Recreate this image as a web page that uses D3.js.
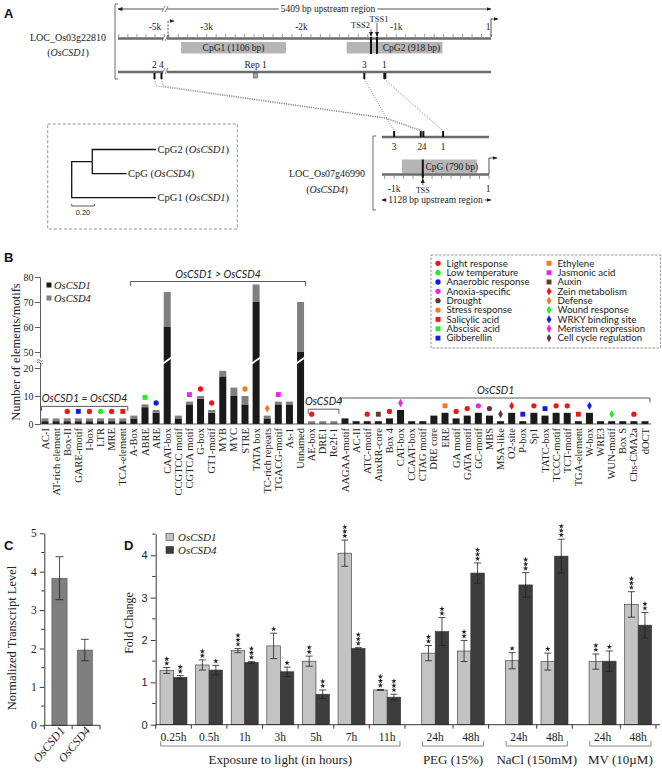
<!DOCTYPE html>
<html>
<head>
<meta charset="utf-8">
<script src="https://cdn.jsdelivr.net/npm/d3@7"></script>
<style>
  body { margin: 0; background: #fff; }
  svg { display: block; }
</style>
</head>
<body>
<div id="fig"></div>
<script>
// ---------- panel A data ----------
var csd1ScaleTicks = [-5000, -3000, -2000, -1000, 0];
var csd1ScaleLabels = ["-5k", "-3k", "-2k", "-1k", "1"];
var csd1CpgNames = ["CpG1 (1106 bp)", "CpG2 (918 bp)"];
var csd1CpgStart = [-3270, -1523];
var csd1CpgEnd = [-2164, -513];
var csd1TssNames = ["TSS2", "TSS1"];
var csd1TssPos = [-1266, -1203];
var csd1AltTss = -3408;
var csd1SiteNames = ["2", "4", "Rep 1", "3", "1"];
var csd1SitePos = [-5006, -4929, -2484, -1337, -1126];

var csd4ScaleTicks = [-1000, -698, 0];
var csd4ScaleLabels = ["-1k", "TSS", "1"];
var csd4CpgName = "CpG (790 bp)";
var csd4CpgStart = -918;
var csd4CpgEnd = -128;
var csd4Tss = -698;
var csd4SiteNames = ["3", "2", "4", "1"];
var csd4SitePos = [-1000, -719, -692, -484];

var cpgTree = {name: "root", len: 0, children: [
  {name: "n1", len: 0.182, children: [
    {name: "CpG2", gene: "OsCSD1", len: 0.564},
    {name: "CpG", gene: "OsCSD4", len: 0.303}
  ]},
  {name: "CpG1", gene: "OsCSD1", len: 0.746}
]};

// ---------- panel B data ----------
var motifNames = ["AC-I", "AT-rich element", "Box-II", "GARE-motif", "I-box", "LTR", "MRE", "TCA-element",
  "A-Box", "ABRE", "ARE", "CAAT-box", "CCGTCC motif", "CGTCA motif", "G-box", "GT1-motif", "MYB", "MYC",
  "STRE", "TATA box", "TC-rich repeats", "TGACG-motif", "As-1", "Unnamed",
  "AE-box", "DRE1", "Re2f-1",
  "AAGAA-motif", "AC-II", "ATC-motif", "AuxRR-core", "Box 4", "CAT-box", "CCAAT-box", "CTAG motif", "DRE core",
  "ERE", "GA motif", "GATA motif", "GC-motif", "MBS", "MSA-like", "O2-site", "P-box", "Sp1", "TATC-box",
  "TCCC-motif", "TCT-motif", "TGA-element", "W-box", "WRE3", "WUN-motif", "Box S", "Chs-CMA2a", "dOCT"];
var csd1Counts = [1, 1, 1, 1, 1, 1, 1, 1,
  2, 6, 4, 60, 2, 7, 9, 4, 17, 10, 7, 70, 2, 7, 7, 50,
  0, 0, 0,
  2, 1, 1, 1, 2, 5, 1, 1, 3, 4, 2, 3, 4, 3, 1, 4, 1, 4, 3, 4, 4, 1, 4, 1, 1, 1, 1, 1];
var csd4Counts = [1, 1, 1, 1, 1, 1, 1, 1,
  1, 1, 1, 14, 1, 1, 1, 1, 2, 3, 3, 7, 1, 1, 1, 20,
  1, 1, 1,
  0, 0, 0, 0, 0, 0, 0, 0, 0, 0, 0, 0, 0, 0, 0, 0, 0, 0, 0, 0, 0, 0, 0, 0, 0, 0, 0, 0];
var motifFunction = ["", "", "Light response", "Gibberellin", "Light response", "Low temperature", "Light response", "Salicylic acid",
  "", "Abscisic acid", "Anaerobic response", "", "", "Jasmonic acid", "Light response", "Light response", "", "",
  "Stress response", "", "Defense", "Jasmonic acid", "", "",
  "Light response", "", "",
  "", "", "Light response", "Auxin", "Light response", "Meristem expression", "", "", "",
  "Ethylene", "Light response", "Light response", "Anoxia-specific", "Drought", "Cell cycle regulation", "Zein metabolism", "Gibberellin", "Light response", "Gibberellin",
  "Light response", "Light response", "Salicylic acid", "WRKY binding site", "", "Wound response", "", "Light response", ""];
var motifGroupNames = ["OsCSD1 = OsCSD4", "OsCSD1 > OsCSD4", "OsCSD4", "OsCSD1"];
var motifGroupFirst = [0, 8, 24, 27];
var motifGroupLast = [7, 23, 26, 54];

var legendNames = ["Light response", "Low temperature", "Anaerobic response", "Anoxia-specific", "Drought", "Stress response",
  "Salicylic acid", "Abscisic acid", "Gibberellin", "Ethylene", "Jasmonic acid", "Auxin",
  "Zein metabolism", "Defense", "Wound response", "WRKY binding site", "Meristem expression", "Cell cycle regulation"];
var legendShapes = ["circle", "circle", "circle", "circle", "circle", "circle",
  "square", "square", "square", "square", "square", "square",
  "diamond", "diamond", "diamond", "diamond", "diamond", "diamond"];
var legendColors = ["#f41414", "#22ee22", "#1a1ae6", "#ee22ee", "#5e3b33", "#f47a20",
  "#f41414", "#22ee22", "#1a1ae6", "#f47a20", "#ee22ee", "#5e3b33",
  "#f41414", "#f47a20", "#22ee22", "#1a1ae6", "#ee22ee", "#5e3b33"];

// ---------- panel C data ----------
var cGenes = ["OsCSD1", "OsCSD4"];
var cMean = [3.83, 1.96];
var cErr = [0.56, 0.28];

// ---------- panel D data ----------
var dGroups = ["Exposure to light (in hours)", "PEG (15%)", "NaCl (150mM)", "MV (10\u00b5M)"];
var dConditions = ["0.25h", "0.5h", "1h", "3h", "5h", "7h", "11h", "24h", "48h", "24h", "48h", "24h", "48h"];
var dConditionGroup = [0, 0, 0, 0, 0, 0, 0, 1, 1, 2, 2, 3, 3];
var dCsd1Mean = [1.28, 1.41, 1.75, 1.86, 1.50, 4.05, 0.82, 1.69, 1.74, 1.51, 1.49, 1.49, 2.84];
var dCsd1Err = [0.07, 0.12, 0.05, 0.30, 0.12, 0.31, 0.01, 0.18, 0.25, 0.19, 0.20, 0.18, 0.30];
var dCsd1Sig = [2, 2, 3, 1, 2, 3, 3, 2, 2, 1, 1, 2, 3];
var dCsd4Mean = [1.12, 1.29, 1.47, 1.25, 0.72, 1.80, 0.65, 2.20, 3.58, 3.30, 3.98, 1.50, 2.35];
var dCsd4Err = [0.04, 0.11, 0.02, 0.11, 0.10, 0.02, 0.07, 0.33, 0.24, 0.29, 0.40, 0.24, 0.30];
var dCsd4Sig = [2, 1, 3, 1, 2, 3, 3, 2, 3, 3, 3, 1, 2];

// ---------- drawing ----------
var SERIF = '"Liberation Serif", "Times New Roman", serif';
var SANS = 'Lato, "Noto Sans", sans-serif';
var ARIAL = '"Liberation Sans", Arial, sans-serif';
var ink = "#222";

var svg = d3.select("#fig").append("svg")
  .attr("width", 662)
  .attr("height", 770);
svg.append("rect").attr("width", 662).attr("height", 770).attr("fill", "#fff");

var defs = svg.append("defs");
defs.append("marker")
  .attr("id", "arr")
  .attr("viewBox", "0 0 10 10")
  .attr("refX", 9).attr("refY", 5)
  .attr("markerUnits", "userSpaceOnUse")
  .attr("markerWidth", 5).attr("markerHeight", 5)
  .attr("orient", "auto-start-reverse")
  .append("path").attr("d", "M0,1L10,5L0,9z").attr("fill", ink);

function panelLetter(x, y, t) {
  svg.append("text").attr("x", x).attr("y", y)
    .attr("font-family", ARIAL).attr("font-weight", "bold").attr("font-size", 13)
    .attr("fill", "#111").text(t);
}

function geneText(g, x, y, pre, gene, post, size, anchor) {
  var t = g.append("text").attr("x", x).attr("y", y)
    .attr("font-family", SERIF).attr("font-size", size)
    .attr("text-anchor", anchor || "start").attr("fill", ink);
  if (pre) t.append("tspan").text(pre);
  t.append("tspan").attr("font-style", "italic").text(gene);
  if (post) t.append("tspan").text(post);
  return t;
}

function sideBracket(g, x, y0, y1) {
  g.append("path").attr("d", `M${x + 3},${y0}H${x}V${y1}H${x + 3}`)
    .attr("fill", "none").attr("stroke", "#444").attr("stroke-width", 0.8);
}

function lengthArrow(g, xa, xb, y, label, xt) {
  g.append("line").attr("x1", xa).attr("x2", xb).attr("y1", y).attr("y2", y)
    .attr("stroke", ink).attr("stroke-width", 0.8)
    .attr("marker-start", "url(#arr)").attr("marker-end", "url(#arr)");
  var t = g.append("text").attr("x", xt).attr("y", y + 3)
    .attr("text-anchor", "middle").attr("font-family", SERIF).attr("font-size", 9.5)
    .attr("fill", ink).text(label);
  var w = t.node().getComputedTextLength();
  g.insert("rect", function() { return t.node(); })
    .attr("x", xt - w / 2 - 2).attr("y", y - 2).attr("width", w + 4).attr("height", 4).attr("fill", "#fff");
}

function breakMark(g, x, y) {
  g.append("rect").attr("x", x - 2).attr("y", y - 3).attr("width", 4).attr("height", 6).attr("fill", "#fff");
  [-1.5, 1.5].forEach(function(o) {
    g.append("line").attr("x1", x + o - 1.5).attr("y1", y + 3).attr("x2", x + o + 1.5).attr("y2", y - 3)
      .attr("stroke", "#333").attr("stroke-width", 0.6);
  });
}

function bentArrow(g, x, yBase, yTop, len, dashed) {
  g.append("path").attr("d", `M${x},${yBase}V${yTop}H${x + len}`)
    .attr("fill", "none").attr("stroke", ink).attr("stroke-width", 0.8)
    .attr("stroke-dasharray", dashed ? "2,1.5" : null)
    .attr("marker-end", "url(#arr)");
}

// ===== Panel A =====
panelLetter(4, 18, "A");
var gA = svg.append("g");
var grayLine = "#6b6b6b";
var cpgFill = "#b5b5b5";

var xG1 = d3.scaleLinear().domain([-5409, -4890, -3440, 0]).range([118, 165, 165, 491]);

sideBracket(gA, 115, 4, 79);
lengthArrow(gA, xG1(-5409), xG1(0), 9, "5409 bp upstream region", xG1(-1720));
breakMark(gA, 165, 9);

geneText(gA, 68, 41, "", "LOC_Os03g22810", "", 10, "middle").select("tspan").attr("font-style", null);
geneText(gA, 68, 56, "(", "OsCSD1", ")", 10, "middle");

// scale line
gA.append("line").attr("x1", xG1(-5409)).attr("x2", xG1(0)).attr("y1", 38.5).attr("y2", 38.5)
  .attr("stroke", grayLine).attr("stroke-width", 2.5);
var minor1 = d3.range(-5400, -4850, 100).concat(d3.range(-3400, 1, 100));
gA.selectAll(".t1").data(minor1).enter().append("line")
  .attr("x1", d => xG1(d)).attr("x2", d => xG1(d)).attr("y1", 37).attr("y2", 34)
  .attr("stroke", "#555").attr("stroke-width", 0.6);
gA.selectAll(".l1").data(csd1ScaleTicks).enter().append("text")
  .attr("x", (d, i) => xG1(d) - (i === 4 ? 3 : 0)).attr("y", 30)
  .attr("text-anchor", "middle").attr("font-family", SERIF).attr("font-size", 9.5).attr("fill", ink)
  .text((d, i) => csd1ScaleLabels[i]);
breakMark(gA, 165, 38);

bentArrow(gA, xG1(csd1AltTss), 37, 21, 6, true);
bentArrow(gA, xG1(0), 37, 19, 7, false);

// CpG islands
csd1CpgNames.forEach(function(n, i) {
  gA.append("rect").attr("x", xG1(csd1CpgStart[i])).attr("y", 42)
    .attr("width", xG1(csd1CpgEnd[i]) - xG1(csd1CpgStart[i])).attr("height", 11.5).attr("fill", cpgFill);
});
// TSS
csd1TssNames.forEach(function(n, i) {
  var x = xG1(csd1TssPos[i]);
  gA.append("line").attr("x1", x).attr("x2", x).attr("y1", 37).attr("y2", 54)
    .attr("stroke", "#111").attr("stroke-width", 2);
  var ty = i === 0 ? 28 : 22;
  gA.append("text").attr("x", i === 0 ? x - 1 : x + 2).attr("y", ty)
    .attr("text-anchor", i === 0 ? "end" : "middle")
    .attr("font-family", SERIF).attr("font-size", 8.5).attr("fill", ink).text(n);
  gA.append("line").attr("x1", x).attr("x2", x).attr("y1", ty + 1).attr("y2", 36.5)
    .attr("stroke", ink).attr("stroke-width", 0.7).attr("marker-end", "url(#arr)");
});
csd1CpgNames.forEach(function(n, i) {
  var cx = (xG1(csd1CpgStart[i]) + xG1(csd1CpgEnd[i])) / 2 + (i === 1 ? 17 : 0);
  gA.append("text").attr("x", cx).attr("y", 51)
    .attr("text-anchor", "middle").attr("font-family", SERIF).attr("font-size", 9.5).attr("fill", ink).text(n);
});

// site line
gA.append("line").attr("x1", xG1(-5409)).attr("x2", xG1(0)).attr("y1", 72).attr("y2", 72)
  .attr("stroke", grayLine).attr("stroke-width", 2.5);
breakMark(gA, 165, 71);
csd1SiteNames.forEach(function(n, i) {
  var x = xG1(csd1SitePos[i]);
  if (n === "Rep 1") {
    gA.append("rect").attr("x", x - 2).attr("y", 73).attr("width", 4).attr("height", 5)
      .attr("fill", "#aaa").attr("stroke", "#333").attr("stroke-width", 0.5);
  } else {
    gA.append("rect").attr("x", x - 1).attr("y", 73).attr("width", n === "1" ? 3 : 2).attr("height", 6).attr("fill", "#111");
  }
  gA.append("text").attr("x", x).attr("y", 68).attr("text-anchor", "middle")
    .attr("font-family", SERIF).attr("font-size", 9.5).attr("fill", ink).text(n);
});

// OsCSD4 promoter
var xG4 = d3.scaleLinear().domain([-1128, 0]).range([382, 489]);
sideBracket(gA, 373, 136, 210);
gA.append("line").attr("x1", xG4(-1128)).attr("x2", xG4(0)).attr("y1", 137).attr("y2", 137)
  .attr("stroke", grayLine).attr("stroke-width", 2.5);
csd4SiteNames.forEach(function(n, i) {
  var x = xG4(csd4SitePos[i]);
  gA.append("rect").attr("x", x - 1).attr("y", 131).attr("width", 2).attr("height", 6).attr("fill", "#111");
  var anchor = n === "2" ? "end" : (n === "4" ? "start" : "middle");
  var tx = n === "2" ? x + 1.5 : (n === "4" ? x - 1.5 : x);
  gA.append("text").attr("x", tx).attr("y", 150).attr("text-anchor", anchor)
    .attr("font-family", SERIF).attr("font-size", 9.5).attr("fill", ink).text(n);
});

// dotted links between the two promoters
csd1SiteNames.forEach(function(n, i) {
  var j = csd4SiteNames.indexOf(n);
  if (j < 0) return;
  var x0 = xG1(csd1SitePos[i]), x1 = xG4(csd4SitePos[j]);
  var pts = (n === "2" || n === "4")
    ? [[x0, 79], [x0 + 2, 86], [x1 - 37, 118], [x1, 131]]
    : [[x0, 79], [x1, 131]];
  gA.append("path").attr("d", d3.line()(pts))
    .attr("fill", "none").attr("stroke", "#555").attr("stroke-width", 0.7).attr("stroke-dasharray", "1,1.3");
});

gA.append("rect").attr("x", xG4(csd4CpgStart)).attr("y", 159.5)
  .attr("width", xG4(csd4CpgEnd) - xG4(csd4CpgStart)).attr("height", 14).attr("fill", cpgFill);
gA.append("text").attr("x", (xG4(csd4Tss) + xG4(csd4CpgEnd)) / 2 + 2).attr("y", 169.5)
  .attr("text-anchor", "middle").attr("font-family", SERIF).attr("font-size", 9.5).attr("fill", ink).text(csd4CpgName);
gA.append("line").attr("x1", xG4(-1128)).attr("x2", xG4(0)).attr("y1", 174.5).attr("y2", 174.5)
  .attr("stroke", grayLine).attr("stroke-width", 2.5);
gA.selectAll(".t4").data(d3.range(-1100, 1, 100)).enter().append("line")
  .attr("x1", d => xG4(d)).attr("x2", d => xG4(d)).attr("y1", 176).attr("y2", 179)
  .attr("stroke", "#555").attr("stroke-width", 0.6);
gA.append("line").attr("x1", xG4(csd4Tss)).attr("x2", xG4(csd4Tss)).attr("y1", 159.5).attr("y2", 178)
  .attr("stroke", "#111").attr("stroke-width", 2);
gA.append("line").attr("x1", xG4(csd4Tss)).attr("x2", xG4(csd4Tss)).attr("y1", 185).attr("y2", 178.5)
  .attr("stroke", ink).attr("stroke-width", 0.7).attr("marker-end", "url(#arr)");
gA.selectAll(".l4").data(csd4ScaleTicks).enter().append("text")
  .attr("x", (d, i) => xG4(d) - (i === 2 ? 1 : 0)).attr("y", (d, i) => i === 1 ? 193 : 192)
  .attr("text-anchor", "middle").attr("font-family", SERIF)
  .attr("font-size", (d, i) => i === 1 ? 8 : 9.5).attr("fill", ink)
  .text((d, i) => csd4ScaleLabels[i]);
bentArrow(gA, xG4(0), 174, 158, 8, false);
lengthArrow(gA, xG4(-1128), xG4(0) + 2, 200, "1128 bp upstream region", 435.5);

geneText(gA, 327, 177, "", "LOC_Os07g46990", "", 10, "middle").select("tspan").attr("font-style", null);
geneText(gA, 327, 193, "(", "OsCSD4", ")", 10, "middle");

// CpG tree
gA.append("rect").attr("x", 47.7).attr("y", 124).attr("width", 189.6).attr("height", 105)
  .attr("fill", "none").attr("stroke", "#777").attr("stroke-width", 0.8).attr("stroke-dasharray", "3,2");
var root = d3.hierarchy(cpgTree);
var xT = d3.scaleLinear().domain([0, 0.75]).range([71.7, 156.5]);
var leaves = root.leaves();
var yT = d3.scalePoint().domain(leaves.map(d => d.data.name)).range([149.5, 197.7]);
root.eachBefore(function(d) { d.dist = (d.parent ? d.parent.dist : 0) + d.data.len; });
root.eachAfter(function(d) {
  d.py = d.children ? d3.mean(d.children, c => c.py) : yT(d.data.name);
});
root.descendants().forEach(function(d) {
  if (!d.parent) return;
  gA.append("path")
    .attr("d", `M${xT(d.parent.dist)},${d.parent.py}V${d.py}H${xT(d.dist)}`)
    .attr("fill", "none").attr("stroke", "#111").attr("stroke-width", 1.3);
});
leaves.forEach(function(d) {
  geneText(gA, xT(d.dist) + 1.5, d.py + 3.5, d.data.name + " (", d.data.gene, ")", 10.5, "start");
});
gA.append("path").attr("d", `M${xT(0)},204V206H${xT(0.2)}V204`)
  .attr("fill", "none").attr("stroke", "#333").attr("stroke-width", 0.8);
gA.append("text").attr("x", (xT(0) + xT(0.2)) / 2).attr("y", 215).attr("text-anchor", "middle")
  .attr("font-family", ARIAL).attr("font-size", 7.5).attr("fill", ink).text("0.20");

// ===== Panel B =====
panelLetter(4, 262, "B");
var gB = svg.append("g");
var xB = d3.scalePoint().domain(motifNames).range([45, 645]);
var yB = d3.scaleLinear().domain([0, 20, 50, 80]).range([424, 368, 352, 277]);
var bwB = 7;
var totals = motifNames.map((m, i) => csd1Counts[i] + csd4Counts[i]);

gB.selectAll(".b1").data(motifNames).enter().append("rect")
  .attr("x", d => xB(d) - bwB / 2).attr("width", bwB)
  .attr("y", (d, i) => yB(csd1Counts[i]))
  .attr("height", (d, i) => yB(0) - yB(csd1Counts[i]))
  .attr("fill", "#1a1a1a");
gB.selectAll(".b4").data(motifNames).enter().append("rect")
  .attr("x", d => xB(d) - bwB / 2).attr("width", bwB)
  .attr("y", (d, i) => yB(totals[i]))
  .attr("height", (d, i) => yB(csd1Counts[i]) - yB(totals[i]))
  .attr("fill", "#808080");
// break slashes on the tall bars
motifNames.forEach(function(m, i) {
  if (totals[i] <= 20) return;
  gB.append("line").attr("x1", xB(m) - 5).attr("x2", xB(m) + 5).attr("y1", 364).attr("y2", 357)
    .attr("stroke", "#fff").attr("stroke-width", 1.8);
});

var yAxisB = gB.append("g").attr("transform", "translate(40,0)")
  .call(d3.axisLeft(yB).tickValues([0, 10, 20, 50, 60, 70, 80]).tickSize(5).tickSizeOuter(0).tickPadding(1.5));
yAxisB.selectAll("text").attr("font-family", SERIF).attr("font-size", 10).attr("fill", ink);
yAxisB.selectAll("line,path").attr("stroke", "#333").attr("stroke-width", 0.8);
gB.append("rect").attr("x", 37).attr("y", 358).attr("width", 6).attr("height", 5).attr("fill", "#fff");
gB.append("path").attr("d", "M37,360.5q1.5,-2 3,0t3,0M37,363q1.5,-2 3,0t3,0")
  .attr("fill", "none").attr("stroke", "#333").attr("stroke-width", 0.7);
gB.append("line").attr("x1", 40).attr("x2", 651).attr("y1", yB(0)).attr("y2", yB(0))
  .attr("stroke", "#333").attr("stroke-width", 0.8);

gB.append("text").attr("transform", "translate(20,352) rotate(-90)")
  .attr("text-anchor", "middle").attr("font-family", SERIF).attr("font-size", 12.5).attr("fill", ink)
  .text("Number of elements/motifs");

gB.selectAll(".xl").data(motifNames).enter().append("text")
  .attr("transform", d => `translate(${xB(d) + 3.6},428) rotate(-90)`)
  .attr("text-anchor", "end").attr("font-family", SERIF).attr("font-size", 10.5).attr("fill", ink)
  .text(d => d);

// function markers
function symbolFor(shape) {
  return shape === "circle" ? d3.symbolCircle : (shape === "square" ? d3.symbolSquare : d3.symbolDiamond);
}
function symbolSize(shape) { return shape === "circle" ? 22 : (shape === "square" ? 24 : 20); }
motifNames.forEach(function(m, i) {
  var k = legendNames.indexOf(motifFunction[i]);
  if (k < 0) return;
  gB.append("path")
    .attr("d", d3.symbol().type(symbolFor(legendShapes[k])).size(symbolSize(legendShapes[k]))())
    .attr("transform", `translate(${xB(m)},${yB(totals[i]) - 7})`)
    .attr("fill", legendColors[k]);
});

// group brackets
motifGroupNames.forEach(function(name, g) {
  var a = motifGroupFirst[g], b = motifGroupLast[g];
  var sub = d3.range(a, b + 1);
  var maxI = sub.reduce((p, c) => totals[c] > totals[p] ? c : p, a);
  var pad = motifFunction[maxI] || g === 0 ? 12 : 3;
  var yb = yB(totals[maxI]) - pad;
  var xa = xB(motifNames[a]) - 3.5, xe = xB(motifNames[b]) + 5;
  gB.append("path").attr("d", `M${xa},${yb + 4.5}V${yb}H${xe}V${yb + 4.5}`)
    .attr("fill", "none").attr("stroke", "#333").attr("stroke-width", 0.8);
  gB.append("text").attr("x", (xa + xe) / 2).attr("y", yb - 4)
    .attr("text-anchor", "middle").attr("font-family", SANS).attr("font-style", "italic")
    .attr("font-size", 10.5).attr("fill", ink).text(name);
});

// function legend
gB.append("rect").attr("x", 431).attr("y", 255).attr("width", 229.5).attr("height", 93)
  .attr("fill", "none").attr("stroke", "#777").attr("stroke-width", 0.8).attr("stroke-dasharray", "2.5,1.5");
legendNames.forEach(function(n, i) {
  var c = Math.floor(i / 9), r = i % 9;
  var y = 263.3 + r * 9.35;
  gB.append("path")
    .attr("d", d3.symbol().type(symbolFor(legendShapes[i])).size(symbolSize(legendShapes[i]))())
    .attr("transform", `translate(${c === 0 ? 438 : 549},${y})`)
    .attr("fill", legendColors[i]);
  gB.append("text").attr("x", c === 0 ? 446.5 : 557.5).attr("y", y + 3.2)
    .attr("font-family", SANS).attr("font-size", 9.6).attr("fill", ink).text(n);
});

// series legend
[["OsCSD1", "#1a1a1a"], ["OsCSD4", "#808080"]].forEach(function(s, i) {
  gB.append("rect").attr("x", 46.5).attr("y", 282.5 + i * 13).attr("width", 5).attr("height", 5).attr("fill", s[1]);
  gB.append("text").attr("x", 54).attr("y", 288.5 + i * 13)
    .attr("font-family", SERIF).attr("font-style", "italic").attr("font-size", 10.5).attr("fill", ink).text(s[0]);
});

// ===== Panel C =====
panelLetter(4, 550, "C");
var gC = svg.append("g");
var yC = d3.scaleLinear().domain([0, 5]).range([725.3, 533.3]);
var xC = d3.scaleBand().domain(cGenes).range([44.3, 100]).paddingInner(0.4).paddingOuter(0.3);

gC.selectAll(".cb").data(cGenes).enter().append("rect")
  .attr("x", d => xC(d)).attr("width", xC.bandwidth())
  .attr("y", (d, i) => yC(cMean[i])).attr("height", (d, i) => yC(0) - yC(cMean[i]))
  .attr("fill", "#7f7f7f").attr("stroke", "#555").attr("stroke-width", 0.6);
cGenes.forEach(function(g, i) {
  var cx = xC(g) + xC.bandwidth() / 2;
  var t = yC(cMean[i] + cErr[i]), b = yC(cMean[i] - cErr[i]);
  gC.append("path").attr("d", `M${cx - 4},${t}H${cx + 4}M${cx},${t}V${b}M${cx - 4},${b}H${cx + 4}`)
    .attr("fill", "none").attr("stroke", "#222").attr("stroke-width", 0.8);
});
var yAxisC = gC.append("g").attr("transform", "translate(44.3,0)")
  .call(d3.axisLeft(yC).tickValues([0, 1, 2, 3, 4, 5]).tickSize(4.5).tickSizeOuter(0).tickPadding(3).tickFormat(d3.format("d")));
yAxisC.selectAll("text").attr("font-family", SERIF).attr("font-size", 11.5).attr("fill", ink);
yAxisC.selectAll("line,path").attr("stroke", "#222").attr("stroke-width", 0.9);
gC.selectAll(".cm").data(d3.range(0.5, 5, 1)).enter().append("line")
  .attr("x1", 41.3).attr("x2", 44.3).attr("y1", d => yC(d)).attr("y2", d => yC(d))
  .attr("stroke", "#222").attr("stroke-width", 0.9);
gC.append("line").attr("x1", 44.3).attr("x2", 100).attr("y1", yC(0)).attr("y2", yC(0))
  .attr("stroke", "#222").attr("stroke-width", 0.9);
[44.3, (xC(cGenes[0]) + xC.bandwidth() + xC(cGenes[1])) / 2, 100].forEach(function(x) {
  gC.append("line").attr("x1", x).attr("x2", x).attr("y1", yC(0)).attr("y2", yC(0) + 4)
    .attr("stroke", "#222").attr("stroke-width", 0.9);
});
gC.selectAll(".cl").data(cGenes).enter().append("text")
  .attr("transform", d => `translate(${xC(d) + xC.bandwidth() / 2 + 6},731) rotate(-50)`)
  .attr("text-anchor", "end").attr("font-family", SERIF).attr("font-style", "italic")
  .attr("font-size", 12).attr("fill", ink).text(d => d);
gC.append("text").attr("transform", "translate(16,638) rotate(-90)")
  .attr("text-anchor", "middle").attr("font-family", SERIF).attr("font-size", 12.5).attr("fill", ink)
  .text("Normalized Transcript Level");

// ===== Panel D =====
panelLetter(124, 550, "D");
var gD = svg.append("g");
var yD = d3.scaleLinear().domain([0, 4.5]).range([724.7, 534.1]);
var groupGap = 0.35;
var slotStart = dConditions.map((c, i) => i + groupGap * dConditionGroup[i]);
var xD = d3.scaleLinear().domain([0, dConditions.length + groupGap * 3]).range([155.7, 656]);
var bwD = 13.5;
var slotCenter = slotStart.map(s => xD(s + 0.5));

var series = [
  {mean: dCsd1Mean, err: dCsd1Err, sig: dCsd1Sig, fill: "#c3c3c3", off: -bwD},
  {mean: dCsd4Mean, err: dCsd4Err, sig: dCsd4Sig, fill: "#3d3d3d", off: 0}
];
series.forEach(function(s) {
  gD.selectAll(null).data(dConditions).enter().append("rect")
    .attr("x", (d, i) => slotCenter[i] + s.off).attr("width", bwD)
    .attr("y", (d, i) => yD(s.mean[i])).attr("height", (d, i) => yD(0) - yD(s.mean[i]))
    .attr("fill", s.fill).attr("stroke", "#333").attr("stroke-width", 0.6);
  dConditions.forEach(function(c, i) {
    var cx = slotCenter[i] + s.off + bwD / 2;
    var t = yD(s.mean[i] + s.err[i]), b = yD(s.mean[i] - s.err[i]);
    gD.append("path").attr("d", `M${cx - 3.5},${t}H${cx + 3.5}M${cx},${t}V${b}M${cx - 3.5},${b}H${cx + 3.5}`)
      .attr("fill", "none").attr("stroke", "#222").attr("stroke-width", 0.8);
    for (var k = 0; k < s.sig[i]; k++) {
      gD.append("path").attr("d", d3.symbol().type(d3.symbolStar).size(9)())
        .attr("transform", `translate(${cx},${t - 4.2 - k * 4.4})`).attr("fill", "#222");
    }
  });
});

var yAxisD = gD.append("g").attr("transform", "translate(155.7,0)")
  .call(d3.axisLeft(yD).tickValues([0, 1, 2, 3, 4]).tickSize(5).tickSizeOuter(0).tickPadding(3).tickFormat(d3.format("d")));
yAxisD.selectAll("text").attr("font-family", ARIAL).attr("font-size", 11).attr("fill", ink);
yAxisD.selectAll("line,path").attr("stroke", "#222").attr("stroke-width", 0.9);
gD.selectAll(".dm").data(d3.range(0.5, 4.6, 1)).enter().append("line")
  .attr("x1", 152.2).attr("x2", 155.7).attr("y1", d => yD(d)).attr("y2", d => yD(d))
  .attr("stroke", "#222").attr("stroke-width", 0.9);
gD.append("line").attr("x1", 155.7).attr("x2", 660).attr("y1", yD(0)).attr("y2", yD(0))
  .attr("stroke", "#222").attr("stroke-width", 0.9);
[xD(0)].concat(slotStart.map(s => xD(s + 1))).forEach(function(x) {
  gD.append("line").attr("x1", x).attr("x2", x).attr("y1", yD(0)).attr("y2", yD(0) + 4)
    .attr("stroke", "#222").attr("stroke-width", 0.9);
});
gD.selectAll(".dl").data(dConditions).enter().append("text")
  .attr("x", (d, i) => slotCenter[i]).attr("y", 740.5)
  .attr("text-anchor", "middle").attr("font-family", SERIF).attr("font-size", 11.5).attr("fill", ink)
  .text(d => d);
dGroups.forEach(function(name, g) {
  var idx = d3.range(dConditions.length).filter(i => dConditionGroup[i] === g);
  var xa = xD(slotStart[idx[0]]) + 5, xe = xD(slotStart[idx[idx.length - 1]] + 1) - 5;
  gD.append("path").attr("d", `M${xa},741V746H${xe}V741`)
    .attr("fill", "none").attr("stroke", "#555").attr("stroke-width", 0.7);
  gD.append("text").attr("x", (xa + xe) / 2).attr("y", 764)
    .attr("text-anchor", "middle").attr("font-family", SERIF).attr("font-size", 13).attr("fill", ink)
    .text(name);
});
gD.append("text").attr("transform", "translate(133,623) rotate(-90)")
  .attr("text-anchor", "middle").attr("font-family", SERIF).attr("font-size", 12).attr("fill", ink)
  .text("Fold Change");
[["OsCSD1", "#c3c3c3"], ["OsCSD4", "#3d3d3d"]].forEach(function(s, i) {
  gD.append("rect").attr("x", 166).attr("y", 533.5 + i * 13).attr("width", 7.5).attr("height", 7)
    .attr("fill", s[1]).attr("stroke", "#333").attr("stroke-width", 0.6);
  gD.append("text").attr("x", 178).attr("y", 541 + i * 13)
    .attr("font-family", SERIF).attr("font-style", "italic").attr("font-size", 11).attr("fill", ink).text(s[0]);
});
</script>
</body>
</html>
